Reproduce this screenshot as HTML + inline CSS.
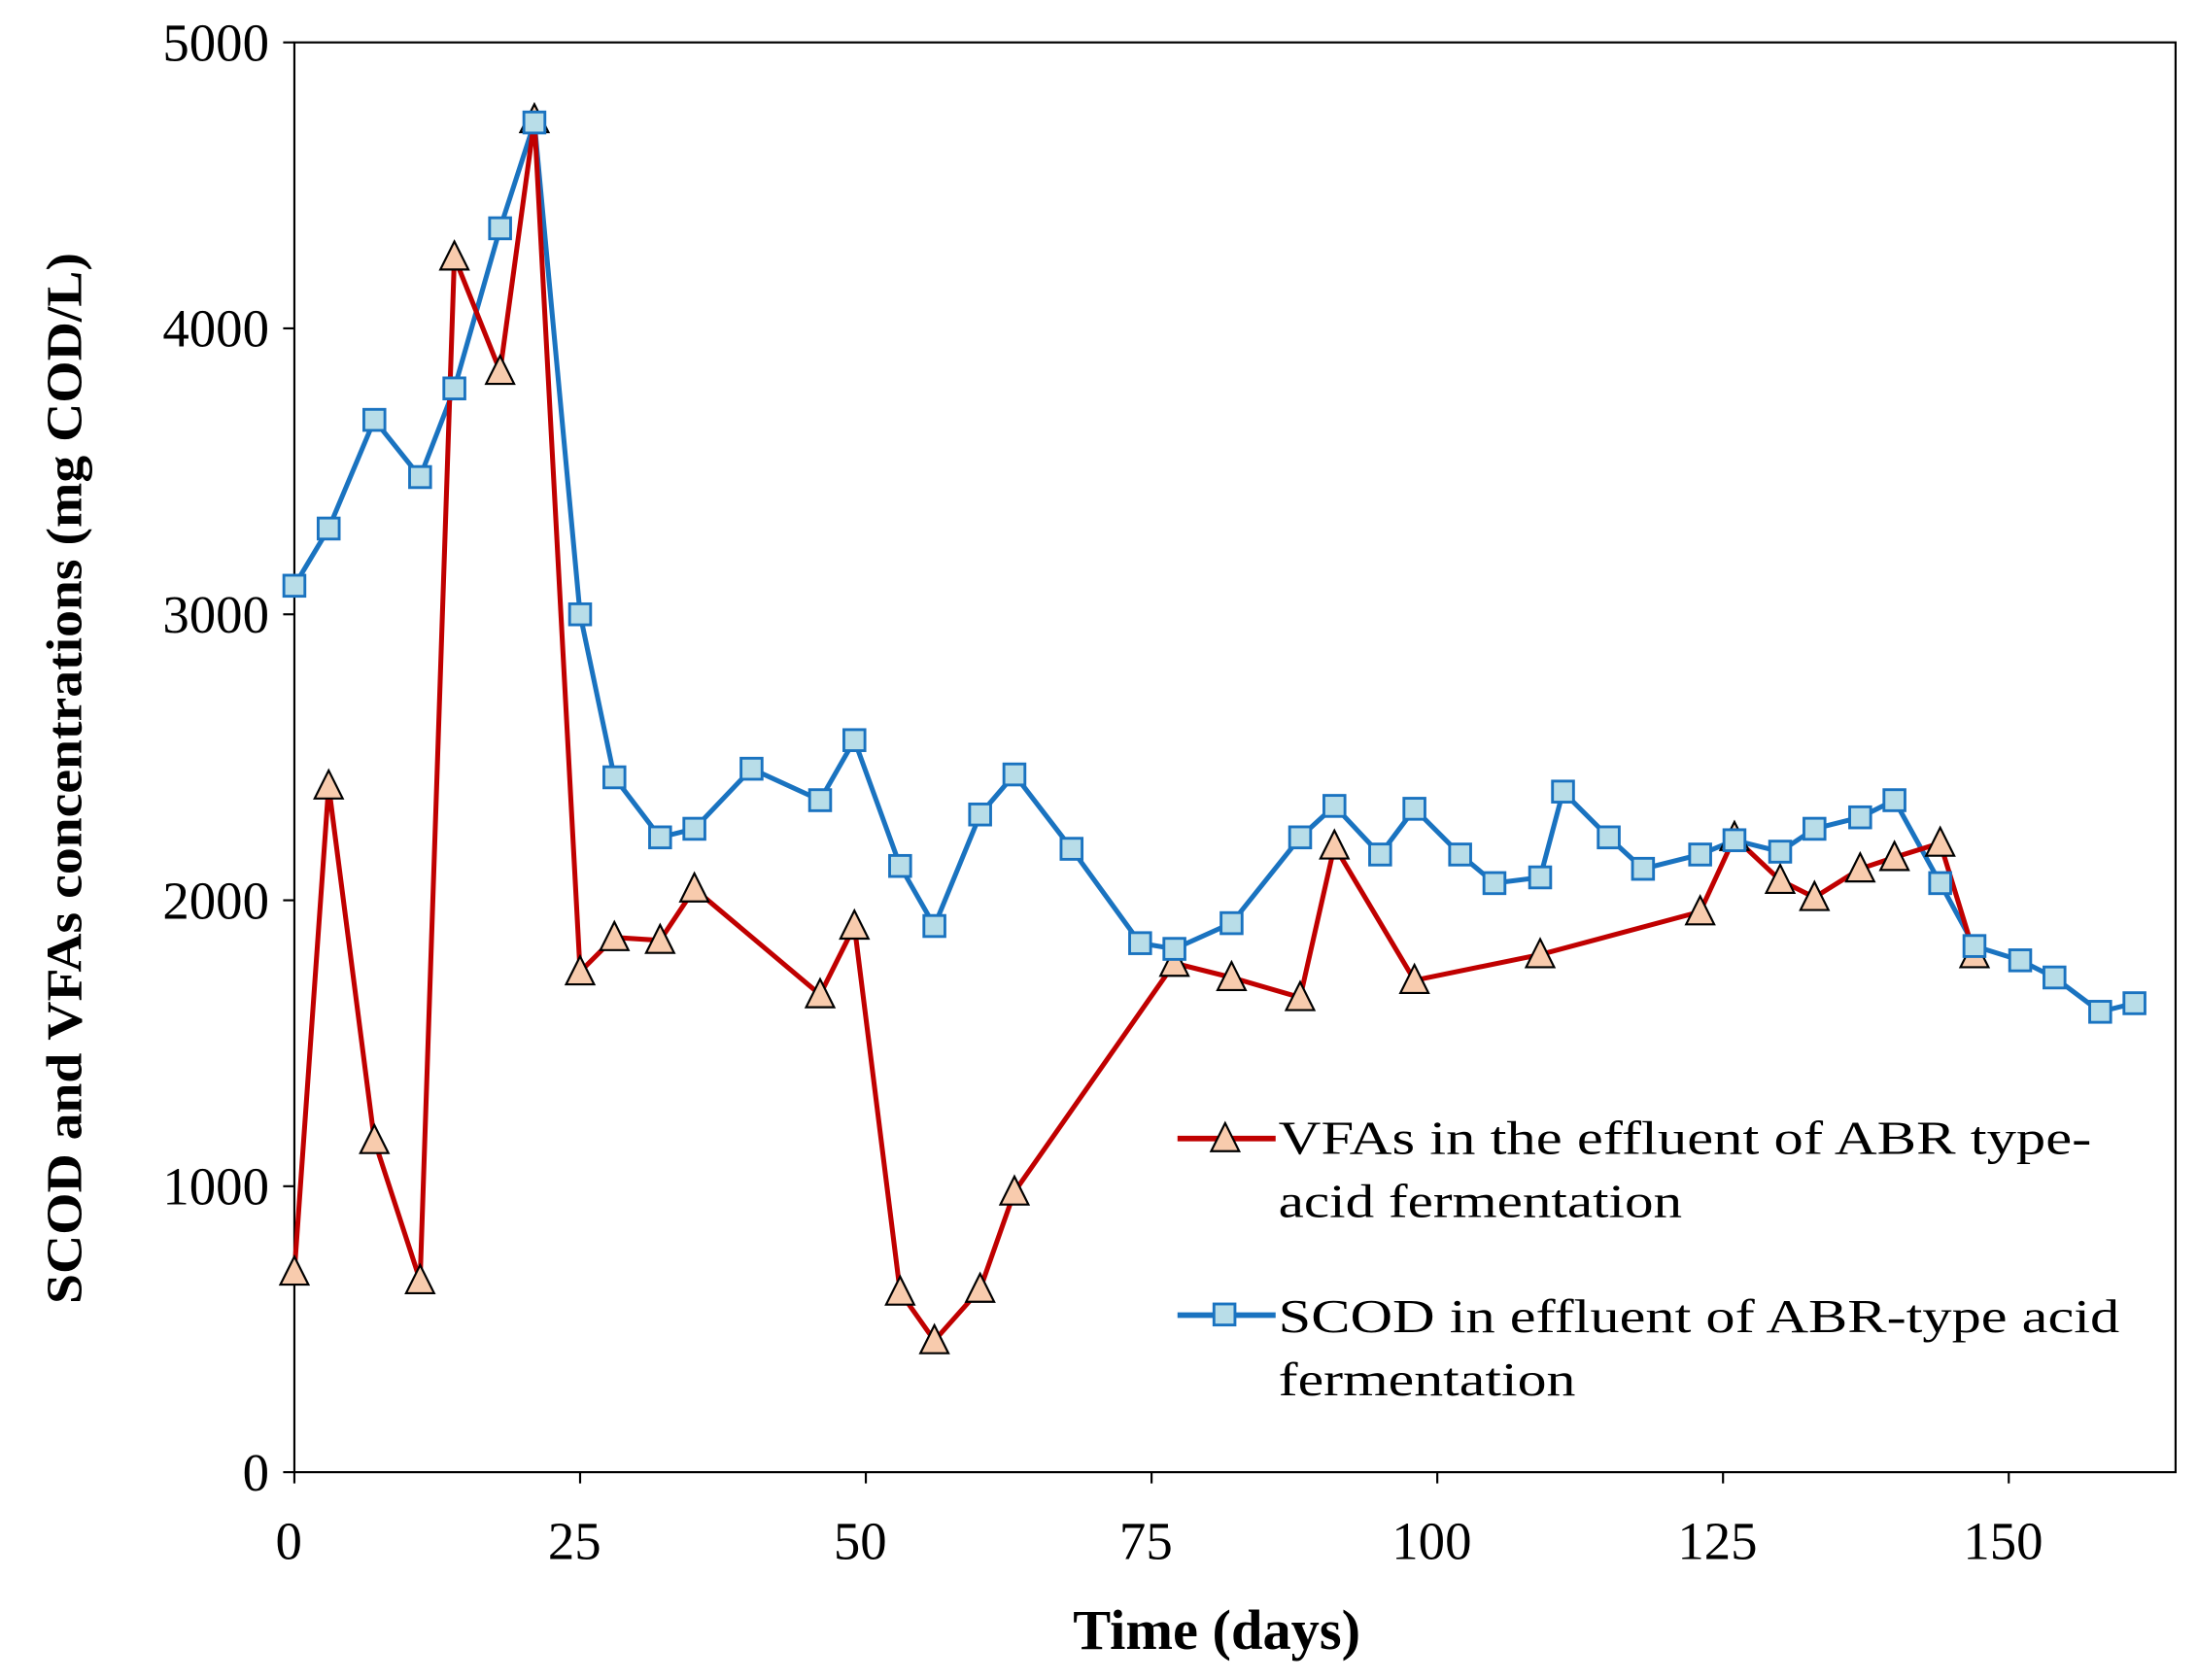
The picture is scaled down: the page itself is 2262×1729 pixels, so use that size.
<!DOCTYPE html>
<html><head><meta charset="utf-8"><style>html,body{margin:0;padding:0;background:#fff}svg{display:block}</style></head>
<body>
<svg id="chart" width="2262" height="1729" viewBox="0 0 1568 1198" xmlns="http://www.w3.org/2000/svg" font-family="Liberation Serif, serif">
<g id="axes"></g>
<g id="series"></g>
<g id="legend">
  <line x1="840" y1="812" x2="910" y2="812" stroke="#c00000" stroke-width="4"/>
  <polygon points="874,801 864,821 884,821" fill="#f8cbad" stroke="#000" stroke-width="1.5"/>
  <text x="912" y="823" font-size="34" textLength="580" lengthAdjust="spacingAndGlyphs">VFAs in the effluent of ABR type-</text>
  <text x="912" y="868" font-size="34" textLength="288" lengthAdjust="spacingAndGlyphs">acid fermentation</text>
  <line x1="840" y1="938" x2="910" y2="938" stroke="#1a73c0" stroke-width="4"/>
  <rect x="866" y="930" width="15" height="15" fill="#b8dde8" stroke="#1a73c0" stroke-width="2"/>
  <text x="912" y="950" font-size="34" textLength="600" lengthAdjust="spacingAndGlyphs">SCOD in effluent of ABR-type acid</text>
  <text x="912" y="995" font-size="34" textLength="212" lengthAdjust="spacingAndGlyphs">fermentation</text>
</g>
</svg>
<script>
const xTicks=[0,25,50,75,100,125,150];
const yTicks=[0,1000,2000,3000,4000,5000];
const vfaDays=[0,3,7,11,14,18,21,25,28,32,35,46,49,53,56,60,63,77,82,88,91,98,109,123,126,130,133,137,140,144,147];
const vfaVals=[700,2400,1160,670,4250,3850,4730,1750,1870,1860,2040,1670,1910,630,460,640,980,1780,1730,1660,2190,1720,1810,1960,2220,2070,2010,2110,2150,2200,1810];
const scodDays=[0,3,7,11,14,18,21,25,28,32,35,40,46,49,53,56,60,63,68,74,77,82,88,91,95,98,102,105,109,111,115,118,123,126,130,133,137,140,144,147,151,154,158,161];
const scodVals=[3100,3300,3680,3480,3790,4350,4720,3000,2430,2220,2250,2460,2350,2560,2120,1910,2300,2440,2180,1850,1830,1920,2220,2330,2160,2320,2160,2060,2080,2380,2220,2110,2160,2210,2170,2250,2290,2350,2060,1840,1790,1730,1610,1640];
const X0=210,X1=1552,Y0=1050,Y1=30;
const xs=d=>X0+d*(1433-210)/150;
const ys=v=>Y0-(v/5000)*(Y0-Y1);
const NS='http://www.w3.org/2000/svg';
function mk(tag,attrs,parent,txt){const e=document.createElementNS(NS,tag);for(const k in attrs)e.setAttribute(k,attrs[k]);if(txt!==undefined)e.textContent=txt;parent.appendChild(e);return e;}
const ax=document.getElementById('axes');
const frame=mk('rect',{x:X0,y:Y1,width:X1-X0,height:Y0-Y1,fill:'none',stroke:'#000','stroke-width':1.5},ax);


yTicks.forEach(v=>{
  mk('line',{x1:X0-8,x2:X0,y1:ys(v),y2:ys(v),stroke:'#000','stroke-width':1.5},ax);
  const t=mk('text',{x:X0-18,y:ys(v)+13,'text-anchor':'end','font-size':38},ax,String(v));
  
  
});
xTicks.forEach(d=>{
  mk('line',{x1:xs(d),x2:xs(d),y1:Y0,y2:Y0+8,stroke:'#000','stroke-width':1.5},ax);
  const t=mk('text',{x:xs(d)-4,y:Y0+62,'text-anchor':'middle','font-size':38},ax,String(d));
  
  
});
const xt=mk('text',{x:868,y:1176,'text-anchor':'middle','font-size':40,'font-weight':'bold',textLength:205,lengthAdjust:'spacingAndGlyphs'},ax,'Time (days)');


const yt=mk('text',{x:0,y:0,'text-anchor':'middle','font-size':36,'font-weight':'bold',transform:'translate(58,555) rotate(-90)',textLength:750,lengthAdjust:'spacingAndGlyphs'},ax,'SCOD and VFAs  concentrations  (mg COD/L)');


const sg=document.getElementById('series');
const scodLine=mk('polyline',{points:scodDays.map((d,i)=>xs(d)+','+ys(scodVals[i])).join(' '),fill:'none',stroke:'#1a73c0','stroke-width':3.5},sg);


const vfaLine=mk('polyline',{points:vfaDays.map((d,i)=>xs(d)+','+ys(vfaVals[i])).join(' '),fill:'none',stroke:'#c00000','stroke-width':3.5},sg);


vfaDays.forEach((d,i)=>{const x=xs(d),y=ys(vfaVals[i]);
  const p=mk('polygon',{points:`${x},${y-11} ${x-10},${y+9} ${x+10},${y+9}`,fill:'#f8cbad',stroke:'#000','stroke-width':1.5},sg);
  
  
});
scodDays.forEach((d,i)=>{const x=xs(d),y=ys(scodVals[i]);
  const r=mk('rect',{x:x-7.5,y:y-7.5,width:15,height:15,fill:'#b8dde8',stroke:'#1a73c0','stroke-width':2},sg);
  
  
});
</script>
</body></html>
